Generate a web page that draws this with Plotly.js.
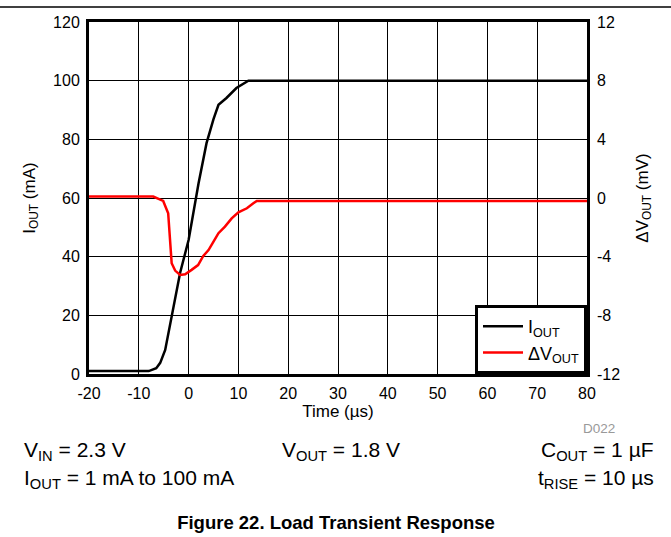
<!DOCTYPE html>
<html>
<head>
<meta charset="utf-8">
<script src="https://cdn.plot.ly/plotly-3.0.1.min.js"></script>
<style>html,body{margin:0;padding:0;background:#fff;}#chart{width:671px;height:537px;}</style>
</head>
<body>
<div id="chart"></div>
<script>
// Time axis (µs) for output current
var timeI = [-20, -8, -6.5, -5.7, -4.7, -3.4, -1.7, 0, 2, 3.6, 5, 6, 7.6, 9.6, 12, 80];
// Output current (mA)
var iOut = [1, 1, 2, 3.8, 8.2, 19.6, 34.5, 45.7, 65, 78.7, 86.9, 91.8, 94.1, 97.5, 100, 100];
// Time axis (µs) for output voltage deviation
var timeV = [-20, -7.1, -5.1, -4.1, -3.4, -2.7, -1.7, -0.7, 0.6, 1.9, 2.95, 4, 5, 6, 7.3, 8.65, 10, 11.7, 13, 13.7, 80];
// Output voltage deviation (mV)
var dVout = [0.1, 0.1, -0.2, -1.04, -4.45, -4.95, -5.25, -5.2, -4.9, -4.57, -3.95, -3.55, -2.98, -2.4, -1.95, -1.39, -0.98, -0.7, -0.36, -0.2, -0.2];

var xTicks = [-20, -10, 0, 10, 20, 30, 40, 50, 60, 70, 80];
var yTicks = [0, 20, 40, 60, 80, 100, 120];
var y2Ticks = [-12, -8, -4, 0, 4, 8, 12];

var FONT = 'Liberation Sans, Arial, sans-serif';
var L = 89, R = 587, T = 22, B = 374, W = 671, H = 537;
function px(x){ return (x - L) / (R - L); }
function py(y){ return (B - y) / (B - T); }

var traces = [
  {x: timeI, y: iOut, type: 'scatter', mode: 'lines', name: 'I<sub>OUT</sub>',
   line: {color: '#000000', width: 2.5}, yaxis: 'y'},
  {x: timeV, y: dVout, type: 'scatter', mode: 'lines', name: '\u0394V<sub>OUT</sub>',
   line: {color: '#ff0000', width: 2.5}, yaxis: 'y2'}
];

var ann = function(text, xp, yp, xanchor, size, color){
  return {text: text, xref: 'paper', yref: 'paper', x: px(xp), y: py(yp),
    xanchor: xanchor, yanchor: 'middle', showarrow: false,
    font: {family: FONT, size: size || 21, color: color || '#000'}};
};

var TF = {family: FONT, size: 16, color: '#000'};

var layout = {
  width: W, height: H,
  margin: {l: L, r: W - R, t: T, b: H - B, pad: 0},
  paper_bgcolor: '#fff', plot_bgcolor: '#fff',
  font: {family: FONT, size: 16, color: '#000'},
  showlegend: true,
  legend: {x: 1, y: 0, xanchor: 'right', yanchor: 'bottom',
    bordercolor: '#000', borderwidth: 3, bgcolor: '#fff', itemwidth: 40,
    font: {family: FONT, size: 18, color: '#000'}, tracegroupgap: 0},
  title: {text: '<b>Figure 22. Load Transient Response</b>', xref: 'container', yref: 'container',
    x: 336 / W, y: 1 - 523 / H, xanchor: 'center', yanchor: 'middle',
    font: {family: FONT, size: 18.5, color: '#000'}},
  xaxis: {range: [-20, 80], tickvals: xTicks, ticktext: xTicks.map(String),
    showgrid: true, gridcolor: '#000', gridwidth: 1,
    showline: true, linecolor: '#000', linewidth: 3, mirror: true,
    ticks: '', zeroline: false, fixedrange: true, ticklabelstandoff: 3,
    tickfont: TF,
    title: {text: 'Time (\u00b5s)', font: {family: FONT, size: 17, color: '#000'}, standoff: 4}},
  yaxis: {range: [0, 120], tickvals: yTicks, ticktext: yTicks.map(String),
    showgrid: true, gridcolor: '#000', gridwidth: 1,
    showline: true, linecolor: '#000', linewidth: 3, mirror: true,
    ticks: '', zeroline: false, fixedrange: true, ticklabelstandoff: 3,
    tickfont: TF,
    title: {text: 'I<sub>OUT</sub> (mA)', font: {family: FONT, size: 17, color: '#000'}, standoff: 14}},
  yaxis2: {range: [-12, 12], tickvals: y2Ticks, ticktext: y2Ticks.map(String),
    overlaying: 'y', side: 'right', showgrid: false, zeroline: false,
    showline: false, ticks: '', fixedrange: true, ticklabelstandoff: 9,
    tickfont: TF,
    title: {text: '\u0394V<sub>OUT</sub> (mV)', font: {family: FONT, size: 17, color: '#000'}, standoff: 16}},
  shapes: [
    {type: 'line', xref: 'paper', yref: 'paper', x0: px(0), x1: px(W), y0: py(7), y1: py(7),
     line: {color: '#000', width: 1.5}}
  ],
  annotations: [
    ann('D022', 599, 428, 'center', 13.5, '#999999'),
    ann('V<sub>IN</sub> = 2.3 V', 22, 451, 'left'),
    ann('V<sub>OUT</sub> = 1.8 V', 341, 451, 'center'),
    ann('C<sub>OUT</sub> = 1 \u00b5F', 656, 451, 'right'),
    ann('I<sub>OUT</sub> = 1 mA to 100 mA', 22, 479, 'left'),
    ann('t<sub>RISE</sub> = 10 \u00b5s', 656, 479, 'right')
  ]
};

Plotly.newPlot('chart', traces, layout, {displayModeBar: false, staticPlot: true});
</script>
</body>
</html>
